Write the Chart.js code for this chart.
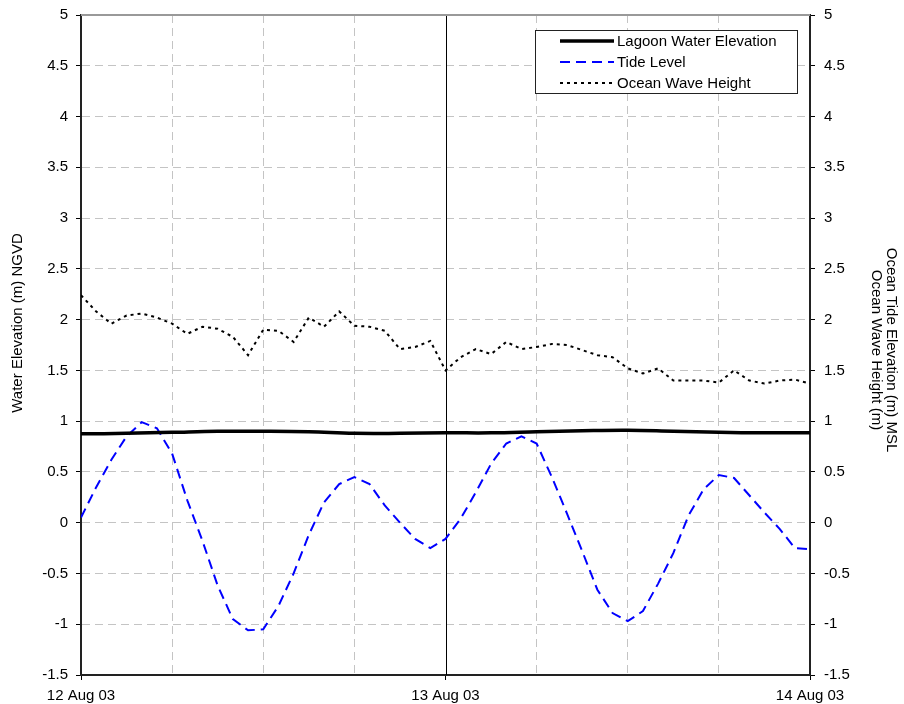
<!DOCTYPE html>
<html>
<head>
<meta charset="utf-8">
<script src="https://cdn.jsdelivr.net/npm/chart.js@4/dist/chart.umd.min.js"></script>
<style>
  html, body { margin: 0; padding: 0; background: #fff; }
  #wrap { width: 904px; height: 704px; }
</style>
</head>
<body>
<div id="wrap"><canvas id="myChart" width="904" height="704"></canvas></div>
<script>
// hours since 12 Aug 03 00:00
const hours = [0,1,2,3,4,5,6,7,8,9,10,11,12,13,14,15,16,17,18,19,20,21,22,23,24,
  25,26,27,28,29,30,31,32,33,34,35,36,37,38,39,40,41,42,43,44,45,46,47,48];

const tideLevel = [0.05,0.35,0.62,0.85,0.99,0.93,0.68,0.22,-0.18,-0.62,-0.95,-1.06,-1.05,
  -0.82,-0.5,-0.12,0.2,0.38,0.45,0.38,0.17,0.0,-0.16,-0.25,-0.16,
  0.04,0.3,0.58,0.78,0.85,0.78,0.45,0.09,-0.28,-0.66,-0.89,-0.97,
  -0.87,-0.6,-0.3,0.07,0.33,0.47,0.44,0.27,0.1,-0.06,-0.25,-0.26];

const waveHeight = [2.24,2.08,1.96,2.04,2.06,2.02,1.96,1.86,1.93,1.91,1.83,1.65,1.9,
  1.89,1.78,2.02,1.93,2.08,1.94,1.93,1.89,1.71,1.73,1.79,1.5,
  1.63,1.71,1.66,1.78,1.71,1.73,1.76,1.75,1.7,1.65,1.63,1.52,
  1.47,1.52,1.4,1.4,1.4,1.38,1.5,1.4,1.37,1.4,1.41,1.37];

const lagoonHours = [0,3,6,9,12,15,18,21,24,27,30,33,36,39,42,45,48];
const lagoonLevel = [0.875,0.88,0.89,0.9,0.9,0.895,0.88,0.88,0.885,0.885,0.895,0.905,0.91,0.9,0.89,0.885,0.885];

const xTickHours = [0, 24, 48];
const xTickLabels = ['12 Aug 03', '13 Aug 03', '14 Aug 03'];
const seriesLabels = ['Lagoon Water Elevation', 'Tide Level', 'Ocean Wave Height'];

const FAMILY = '"Liberation Sans", Arial, sans-serif';
const FONT = '15px ' + FAMILY;

function pts(xs, ys) {
  return xs.map((x, i) => ({x: x, y: ys[i]}));
}

const frame = {
  id: 'frame',
  beforeDatasetsDraw: (chart) => {
    const ctx = chart.ctx, a = chart.chartArea;
    const x24 = chart.scales.x.getPixelForValue(24);
    ctx.save();
    ctx.strokeStyle = '#000';
    ctx.lineWidth = 1;
    ctx.beginPath();
    ctx.moveTo(Math.round(x24) + 0.5, a.top);
    ctx.lineTo(Math.round(x24) + 0.5, a.bottom);
    ctx.stroke();
    ctx.strokeStyle = '#999';
    ctx.lineWidth = 2;
    ctx.beginPath();
    ctx.moveTo(a.left, a.top);
    ctx.lineTo(a.right, a.top);
    ctx.stroke();
    ctx.restore();
  },
  afterDraw: (chart) => {
    const ctx = chart.ctx;
    ctx.save();
    ctx.font = FONT;
    ctx.fillStyle = '#000';
    ctx.textAlign = 'center';
    ctx.textBaseline = 'middle';
    // left axis title
    ctx.save();
    ctx.translate(18, 323);
    ctx.rotate(-Math.PI / 2);
    ctx.fillText('Water Elevation (m) NGVD', 0, 0);
    ctx.restore();
    // right axis title (two lines)
    ctx.save();
    ctx.translate(891, 350);
    ctx.rotate(Math.PI / 2);
    ctx.fillText('Ocean Tide Elevation (m) MSL', 0, 0);
    ctx.fillText('Ocean Wave Height (m)', 0, 15);
    ctx.restore();

    // legend
    const bx = 535, by = 30, bw = 262, bh = 63;
    ctx.fillStyle = '#fff';
    ctx.fillRect(bx, by, bw, bh);
    ctx.strokeStyle = '#222';
    ctx.lineWidth = 1;
    ctx.strokeRect(bx + 0.5, by + 0.5, bw, bh);
    const rows = [41, 62, 83];
    chart.data.datasets.forEach((ds, i) => {
      ctx.save();
      ctx.strokeStyle = ds.borderColor;
      ctx.lineWidth = ds.borderWidth;
      ctx.setLineDash(ds.borderDash || []);
      ctx.beginPath();
      ctx.moveTo(560, rows[i]);
      ctx.lineTo(614, rows[i]);
      ctx.stroke();
      ctx.restore();
      ctx.fillStyle = '#000';
      ctx.textAlign = 'left';
      ctx.fillText(ds.label, 617, rows[i] + 1);
    });
    ctx.restore();
  }
};

const data = {
  datasets: [{
    label: seriesLabels[0],
    data: pts(lagoonHours, lagoonLevel),
    borderColor: '#000',
    borderWidth: 3.5,
    pointRadius: 0,
    tension: 0.4,
    yAxisID: 'y'
  }, {
    label: seriesLabels[1],
    data: pts(hours, tideLevel),
    borderColor: '#0000ff',
    borderWidth: 2,
    borderDash: [10, 6],
    pointRadius: 0,
    tension: 0,
    yAxisID: 'y1'
  }, {
    label: seriesLabels[2],
    data: pts(hours, waveHeight),
    borderColor: '#000',
    borderWidth: 2,
    borderDash: [3, 4],
    pointRadius: 0,
    tension: 0,
    yAxisID: 'y1'
  }]
};

const tickFont = {family: FAMILY, size: 15};

function fixV(w) {
  return (s) => { s.width = w; s.paddingTop = 0; s.paddingBottom = 0; };
}

const config = {
  type: 'line',
  data: data,
  plugins: [frame],
  options: {
    responsive: false,
    animation: false,
    layout: {padding: {top: 15, left: 0, right: 0, bottom: 0}},
    plugins: {legend: {display: false}, tooltip: {enabled: false}},
    scales: {
      x: {
        type: 'linear',
        min: 0,
        max: 48,
        afterFit: (s) => { s.height = 29; s.paddingLeft = 0; s.paddingRight = 0; },
        afterBuildTicks: (s) => {
          s.ticks = [0, 6, 12, 18, 24, 30, 36, 42, 48].map(v => ({value: v}));
        },
        ticks: {
          padding: 7,
          maxRotation: 0,
          autoSkip: false,
          color: '#000',
          font: tickFont,
          callback: (v) => {
            const k = xTickHours.indexOf(v);
            return k >= 0 ? xTickLabels[k] : '';
          }
        },
        grid: {
          color: (c) => (c.tick && [6, 12, 18, 30, 36, 42].includes(c.tick.value)) ? '#c4c4c4' : 'rgba(0,0,0,0)',
          tickColor: (c) => (c.tick && xTickHours.includes(c.tick.value)) ? '#000' : 'rgba(0,0,0,0)',
          tickLength: 5,
          lineWidth: 1
        },
        border: {display: true, color: '#222', width: 2, dash: [8, 5]}
      },
      y: {
        position: 'left',
        min: -1.5,
        max: 5,
        afterFit: fixV(81),
        ticks: {
          stepSize: 0.5, padding: 8, color: '#000', font: tickFont,
          callback: (v) => String(v)
        },
        grid: {
          color: (c) => (c.tick && c.tick.value > -1.5 && c.tick.value < 5) ? '#c4c4c4' : 'rgba(0,0,0,0)',
          tickColor: '#000',
          tickLength: 5,
          lineWidth: 1
        },
        border: {display: true, color: '#222', width: 2, dash: [8, 5]}
      },
      y1: {
        position: 'right',
        min: -1.5,
        max: 5,
        afterFit: fixV(94),
        ticks: {
          stepSize: 0.5, padding: 9, color: '#000', font: tickFont,
          callback: (v) => String(v)
        },
        grid: {
          drawOnChartArea: false,
          tickColor: '#000',
          tickLength: 5
        },
        border: {display: true, color: '#222', width: 2}
      }
    }
  }
};

const myChart = new Chart(document.getElementById('myChart'), config);
</script>
</body>
</html>
